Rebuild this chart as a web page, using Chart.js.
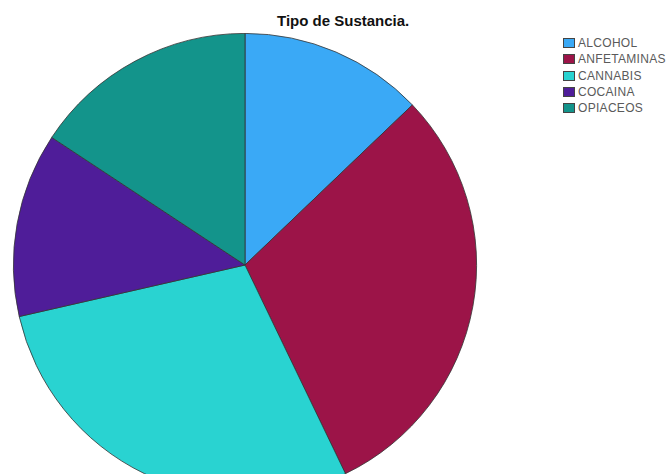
<!DOCTYPE html>
<html lang="es">
<head>
<meta charset="UTF-8">
<title>Tipo de Sustancia.</title>
<script src="https://cdn.jsdelivr.net/npm/chart.js@4/dist/chart.umd.min.js"></script>
<style>
	html, body { margin: 0; padding: 0; background: #fff; overflow: hidden; width: 672px; height: 474px; }
	#title { position: absolute; left: 277px; top: 12px; line-height: 16px; white-space: nowrap;
		font: bold 15px "Liberation Sans", Arial, sans-serif; color: #111; }
	#pieChart { position: absolute; left: 0; top: 33px; }
	#legend { position: absolute; left: 563px; top: 35px; font: 12px "Liberation Sans", Arial, sans-serif; color: #5a5a5a; letter-spacing: 0.3px; }
	#legend div { height: 16.3px; line-height: 16px; white-space: nowrap; }
	#legend span { display: inline-block; width: 12px; height: 10px; border: 1px solid #444; vertical-align: -1px; margin-right: 3px; box-sizing: border-box; }
</style>
</head>
<body>
<div id="title">Tipo de Sustancia.</div>
<canvas id="pieChart" width="490" height="464"></canvas>
<div id="legend"></div>

<script>
// data
var substances = ['ALCOHOL', 'ANFETAMINAS', 'CANNABIS', 'COCAINA', 'OPIACEOS'];
var counts = [9, 21, 20, 9, 11];
var sliceColors = ['#3aa9f6', '#9c1448', '#29d3d1', '#4f1d99', '#13948b'];

// legend
var legend = document.getElementById('legend');
substances.forEach(function (name, i) {
	var row = document.createElement('div');
	var box = document.createElement('span');
	box.style.background = sliceColors[i];
	row.appendChild(box);
	row.appendChild(document.createTextNode(name));
	legend.appendChild(row);
});

var ctx = document.getElementById('pieChart').getContext('2d');
new Chart(ctx, {
	type: 'pie',
	data: {
		labels: substances,
		datasets: [{
			data: counts,
			backgroundColor: sliceColors,
			borderColor: '#333',
			borderWidth: 0.8
		}]
	},
	options: {
		responsive: false,
		animation: false,
		layout: { padding: 0 },
		plugins: {
			legend: { display: false },
			title: { display: false },
			tooltip: { enabled: false }
		}
	}
});
</script>
</body>
</html>
